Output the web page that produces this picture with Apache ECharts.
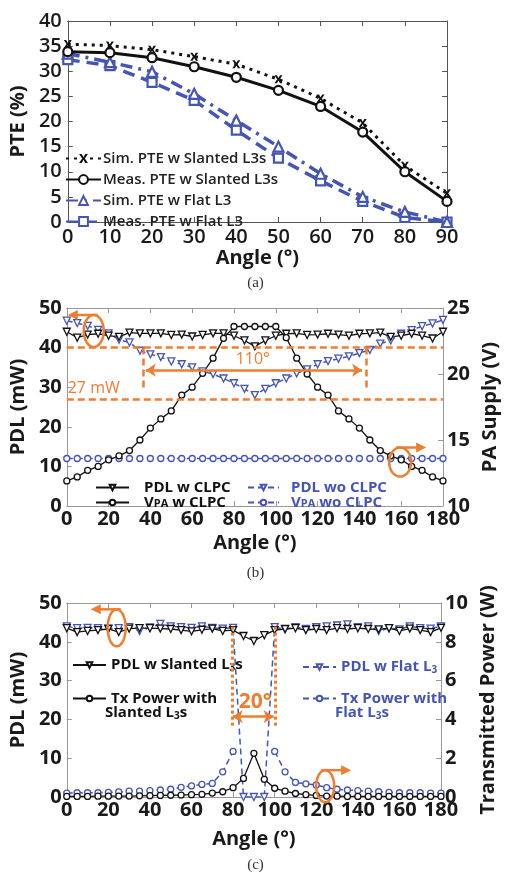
<!DOCTYPE html>
<html><head><meta charset="utf-8">
<script src="https://cdn.jsdelivr.net/npm/echarts@6/dist/echarts.min.js"></script>
<style>html,body{margin:0;padding:0;background:#fff}#chart{width:511px;height:881px}</style>
</head><body><div id="chart"></div>
<script>
// ---------- Panel (a) data ----------
const anglesA = [0, 10, 20, 30, 40, 50, 60, 70, 80, 90];
const pteSimSlanted  = [35.4, 35.1, 34.3, 32.9, 31.4, 28.4, 24.6, 19.7, 11.2, 5.7];
const pteMeasSlanted = [33.9, 33.7, 32.7, 30.9, 28.8, 26.2, 23.0, 17.9, 10.0, 4.1];
const pteSimFlat     = [33.5, 31.8, 29.9, 25.5, 20.2, 15.0, 9.6, 5.0, 2.0, 0.0];
const pteMeasFlat    = [32.3, 31.1, 27.8, 24.2, 18.3, 12.7, 8.2, 4.1, 0.9, 0.0];

// ---------- Panel (b) data ----------
const anglesB = [0,5,10,15,20,25,30,35,40,45,50,55,60,65,70,75,80,85,90,95,100,105,110,115,120,125,130,135,140,145,150,155,160,165,170,175,180];
const pdlWithClpc = [44,42.5,43.3,43.5,43,42.7,43.8,43.6,43.6,43.6,43.2,43.3,42.8,43.2,43.6,43.6,43,41.8,40.3,41.8,43,43.5,43.6,43.2,43.3,43.5,43.3,43,43.5,43.6,43.8,42.7,43,43.5,43,42.3,44];
const vpaWithClpc = [11.9,12.2,12.7,13.0,13.5,13.8,14.2,15.0,15.9,16.6,17.2,18.4,19.0,20.05,21.2,22.7,23.6,23.6,23.6,23.6,23.6,22.75,21.2,20.0,19.0,18.4,17.2,16.6,15.9,15.0,14.2,13.8,13.5,13.0,12.7,12.2,11.9];
const pdlWoClpc = [46.8,46.2,45.5,44.5,43.6,42,41.3,39.2,38.3,37.6,36.5,35.8,35,34,33.3,32.2,31,29.6,28,29.6,31,32.2,33.5,34.5,35.8,36.6,37.2,37.8,38.6,39.4,41,41.8,43.5,44.4,45.4,46.1,47];
const vpaWoClpc = [13.6,13.6,13.6,13.6,13.6,13.6,13.6,13.6,13.6,13.6,13.6,13.6,13.6,13.6,13.6,13.6,13.6,13.6,13.6,13.6,13.6,13.6,13.6,13.6,13.6,13.6,13.6,13.6,13.6,13.6,13.6,13.6,13.6,13.6,13.6,13.6,13.6];

// ---------- Panel (c) data ----------
const anglesC = [0,5,10,15,20,25,30,35,40,45,50,55,60,65,70,75,80,85,90,95,100,105,110,115,120,125,130,135,140,145,150,155,160,165,170,175,180];
const pdlSlanted = [43.5,42.5,42.8,43,43.3,42.5,43.4,43.5,43.5,43.4,43.3,43,42.7,43.1,43.4,42.8,43,41.5,40.2,41.7,43,43.3,43.5,43,43.3,43,43.5,43.3,43.5,43.3,43.2,43.5,42.8,43.4,43,42.5,43.6];
const pdlFlat = [44,43.5,43.6,43.5,43.4,43.5,43.8,42.8,43.7,44.6,44,43.8,43.6,44,43.6,43.4,43.6,0,0,0,43.8,43.2,43.8,43.3,43.8,44,44.2,44.5,43.8,44,42.8,43.5,43.2,44,43.5,43.4,44];
const txSlanted = [0.03,0.03,0.03,0.04,0.04,0.05,0.05,0.06,0.07,0.08,0.09,0.1,0.12,0.14,0.2,0.27,0.48,0.96,2.25,0.91,0.45,0.3,0.18,0.12,0.08,0.05,0.04,0.03,0.03,0.03,0.03,0.03,0.03,0.03,0.03,0.03,0.03];
const txFlat = [0.2,0.22,0.22,0.22,0.24,0.26,0.3,0.3,0.33,0.36,0.4,0.5,0.57,0.65,0.7,1.3,2.35,null,null,null,2.35,1.3,0.75,0.68,0.62,0.48,0.4,0.36,0.33,0.3,0.27,0.24,0.22,0.22,0.22,0.2,0.2];

const FONT = "'Open Sans','Liberation Sans',sans-serif";
const BLUE = '#4455B6', BLACK = '#111111', ORANGE = '#EE7D2F', TXT = '#1a1a1a';
const pairs = (xs, ys) => xs.map((x, i) => [x, ys[i]]);

function ax(base, frameColor) {
  return Object.assign({
    type: 'value',
    axisLine: { show: true, onZero: false, lineStyle: { color: frameColor, width: 1 } },
    axisTick: { show: true, inside: true, length: 5, lineStyle: { color: frameColor } },
    splitLine: { show: false },
    axisLabel: { show: false },
    nameTextStyle: { color: TXT, fontSize: 20, fontWeight: 'bold', fontFamily: FONT }
  }, base);
}
const labelStyle = (w, m) => ({ show: true, color: TXT, fontSize: 20, fontWeight: w, fontFamily: FONT, margin: m, showMinLabel: true, showMaxLabel: true });

function ellipseArrow(params, api) {
  const c = api.coord([api.value(0), api.value(1)]);
  const rx = api.value(2), ry = api.value(3), dir = api.value(4);
  const pts = [];
  for (let k = 0; k <= 60; k++) { const t = k / 60 * Math.PI * 2; pts.push([c[0] + rx * Math.cos(t), c[1] + ry * Math.sin(t)]); }
  const y = c[1] - ry;
  const x0 = c[0] - dir * 4, x1 = c[0] + dir * 26;
  return { type: 'group', children: [
    { type: 'polyline', shape: { points: pts }, style: { stroke: ORANGE, lineWidth: 2.5, fill: null } },
    { type: 'line', shape: { x1: x0, y1: y, x2: x1 - dir * 7, y2: y }, style: { stroke: ORANGE, lineWidth: 2.5 } },
    { type: 'polygon', shape: { points: [[x1, y], [x1 - dir * 10, y - 5], [x1 - dir * 10, y + 5]] }, style: { fill: ORANGE } }
  ]};
}
function textSeries(list, xi, yi) {
  return {
    type: 'custom', xAxisIndex: xi, yAxisIndex: yi, silent: true, z: 20,
    data: list.map(d => [d.x, d.y]),
    renderItem: function (params, api) {
      const d = list[params.dataIndex];
      const c = api.coord([d.x, d.y]);
      return { type: 'text', x: c[0], y: c[1], style: { text: d.t, fill: ORANGE, fontSize: d.size, fontWeight: d.weight, fontFamily: FONT, align: 'center', verticalAlign: 'middle' } };
    }
  };
}

const dashOrange = { color: ORANGE, width: 2.5, type: [7, 4] };
const dotOrange = { color: ORANGE, width: 3, type: [3, 3] };
const arrowOrange = { color: ORANGE, width: 2.5, type: 'solid' };

const richSub = (color) => ({ s: { fontSize: 10, fontWeight: 'bold', fontFamily: FONT, color: color, padding: [7, 0, 0, 0] }, p: { fontSize: 11, fontWeight: 'bold', fontFamily: FONT, color: color, padding: [3, 0, 0, 0] } });

const option = {
  animation: false,
  backgroundColor: '#fff',
  grid: [
    { left: 62, right: 64, top: 21, height: 201 },
    { left: 65, right: 68, top: 308, height: 198 },
    { left: 65, right: 70, top: 603, height: 194 }
  ],
  xAxis: [
    ax({ gridIndex: 0, min: 0, max: 90, interval: 10, position: 'bottom', axisLabel: labelStyle('600', 5), name: 'Angle (°)', nameLocation: 'middle', nameGap: 25 }, '#555'),
    ax({ gridIndex: 0, min: 0, max: 90, interval: 10, position: 'top' }, '#555'),
    ax({ gridIndex: 1, min: 0, max: 180, interval: 20, position: 'bottom', axisLabel: labelStyle('bold', 3), name: 'Angle (°)', nameLocation: 'middle', nameGap: 27 }, '#999'),
    ax({ gridIndex: 1, min: 0, max: 180, interval: 20, position: 'top' }, '#999'),
    ax({ gridIndex: 2, min: 0, max: 180, interval: 20, position: 'bottom', axisLabel: labelStyle('bold', 3), name: 'Angle (°)', nameLocation: 'middle', nameGap: 32 }, '#999'),
    ax({ gridIndex: 2, min: 0, max: 180, interval: 20, position: 'top' }, '#999')
  ],
  yAxis: [
    ax({ gridIndex: 0, min: 0, max: 40, interval: 5, position: 'left', axisLabel: labelStyle('600', 6), name: 'PTE (%)', nameLocation: 'middle', nameGap: 26, nameRotate: 90 }, '#555'),
    ax({ gridIndex: 0, min: 0, max: 40, interval: 5, position: 'right' }, '#555'),
    ax({ gridIndex: 1, min: 0, max: 50, interval: 10, position: 'left', axisLabel: labelStyle('bold', 5), name: 'PDL (mW)', nameLocation: 'middle', nameGap: 27, nameRotate: 90 }, '#999'),
    ax({ gridIndex: 1, min: 10, max: 25, interval: 5, position: 'right', axisLabel: labelStyle('bold', 4), name: 'PA Supply (V)', nameLocation: 'middle', nameGap: 29, nameRotate: 90 }, '#999'),
    ax({ gridIndex: 2, min: 0, max: 50, interval: 10, position: 'left', axisLabel: labelStyle('bold', 5), name: 'PDL (mW)', nameLocation: 'middle', nameGap: 32, nameRotate: 90 }, '#999'),
    ax({ gridIndex: 2, min: 0, max: 10, interval: 2, position: 'right', axisLabel: labelStyle('bold', 4), name: 'Transmitted Power (W)', nameLocation: 'middle', nameGap: 35, nameRotate: 90 }, '#999')
  ],
  legend: [
    { orient: 'vertical', left: 60, top: 143, itemWidth: 35, itemHeight: 11, itemGap: 0,
      data: ['Sim. PTE w Slanted L3s', 'Meas. PTE w Slanted L3s', 'Sim. PTE w Flat L3', 'Meas. PTE w Flat L3'],
      textStyle: { color: '#222', fontSize: 15, fontWeight: '600', fontFamily: FONT, lineHeight: 21, padding: [0, 0, 0, -3] } },
    { orient: 'vertical', left: 90, top: 475, itemWidth: 33, itemHeight: 7, itemGap: 0,
      data: ['PDL w CLPC', 'VPA w CLPC'],
      formatter: n => n.replace('VPA', 'V{p|PA}'),
      textStyle: { color: BLACK, fontSize: 15, fontWeight: 'bold', fontFamily: FONT, lineHeight: 15, padding: [0, 0, 0, 10], rich: richSub(BLACK) } },
    { orient: 'vertical', left: 242, top: 475, itemWidth: 31, itemHeight: 7, itemGap: 0,
      data: ['PDL wo CLPC', 'VPA wo CLPC'],
      formatter: n => n.replace('VPA', 'V{p|PA}'),
      textStyle: { color: BLUE, fontSize: 15, fontWeight: 'bold', fontFamily: FONT, lineHeight: 15, padding: [0, 0, 0, 7], rich: richSub(BLUE) } },
    { orient: 'vertical', left: 67, top: 652, itemWidth: 33, itemHeight: 7, itemGap: 17,
      data: ['PDL w Slanted L3s', 'Tx Power with Slanted L3s'],
      formatter: n => n === 'PDL w Slanted L3s' ? 'PDL w Slanted L{s|3}s' : 'Tx Power with',
      textStyle: { color: BLACK, fontSize: 15, fontWeight: 'bold', fontFamily: FONT, lineHeight: 16, rich: richSub(BLACK) } },
    { orient: 'vertical', left: 297, top: 654, itemWidth: 33, itemHeight: 7, itemGap: 15,
      data: ['PDL w Flat L3', 'Tx Power with Flat L3s'],
      formatter: n => n === 'PDL w Flat L3' ? 'PDL w Flat L{s|3}' : 'Tx Power with',
      textStyle: { color: BLUE, fontSize: 15, fontWeight: 'bold', fontFamily: FONT, lineHeight: 16, rich: richSub(BLUE) } }
  ],
  graphic: [
    { type: 'text', left: 'center', top: 276, style: { text: '(a)', fontFamily: "'Liberation Serif',serif", fontSize: 15, fill: '#333' } },
    { type: 'text', left: 'center', top: 566, style: { text: '(b)', fontFamily: "'Liberation Serif',serif", fontSize: 15, fill: '#333' } },
    { type: 'text', left: 'center', top: 858, style: { text: '(c)', fontFamily: "'Liberation Serif',serif", fontSize: 15, fill: '#333' } },
    { type: 'text', x: 105, y: 713, style: { text: 'Slanted L{s|3}s', fontFamily: FONT, fontSize: 15, fontWeight: 'bold', fill: BLACK, verticalAlign: 'middle', rich: richSub(BLACK) } },
    { type: 'text', x: 335, y: 713, style: { text: 'Flat L{s|3}s', fontFamily: FONT, fontSize: 15, fontWeight: 'bold', fill: BLUE, verticalAlign: 'middle', rich: richSub(BLUE) } }
  ],
  series: [
    // ---- Panel (a)
    { name: 'Meas. PTE w Flat L3', type: 'line', xAxisIndex: 0, yAxisIndex: 0, data: pairs(anglesA, pteMeasFlat),
      symbol: 'rect', symbolSize: 9, itemStyle: { color: '#fff', borderColor: BLUE, borderWidth: 2.2 },
      lineStyle: { color: BLUE, width: 3.5, type: [12, 7] }, color: BLUE },
    { name: 'Sim. PTE w Flat L3', type: 'line', xAxisIndex: 0, yAxisIndex: 0, data: pairs(anglesA, pteSimFlat),
      symbol: 'triangle', symbolSize: 10, itemStyle: { color: '#fff', borderColor: BLUE, borderWidth: 2.2 },
      lineStyle: { color: BLUE, width: 3.5, type: [12, 6, 3, 6] }, color: BLUE },
    { name: 'Sim. PTE w Slanted L3s', type: 'line', xAxisIndex: 0, yAxisIndex: 0, data: pairs(anglesA, pteSimSlanted),
      symbol: 'path://M0,0L3,0L5,3.5L7,0L10,0L6.6,5L10,10L7,10L5,6.5L3,10L0,10L3.4,5Z', symbolSize: 8,
      itemStyle: { color: BLACK }, lineStyle: { color: BLACK, width: 3, type: [3, 5] }, color: BLACK },
    { name: 'Meas. PTE w Slanted L3s', type: 'line', xAxisIndex: 0, yAxisIndex: 0, data: pairs(anglesA, pteMeasSlanted),
      symbol: 'circle', symbolSize: 9, itemStyle: { color: '#fff', borderColor: BLACK, borderWidth: 2.2 },
      lineStyle: { color: BLACK, width: 3 }, color: BLACK, z: 3 },

    // ---- Panel (b)
    { name: 'VPA wo CLPC', type: 'line', xAxisIndex: 2, yAxisIndex: 3, data: pairs(anglesB, vpaWoClpc),
      symbol: 'circle', symbolSize: 6, itemStyle: { color: '#fff', borderColor: BLUE, borderWidth: 1.3 },
      lineStyle: { color: BLUE, width: 1.5, type: [6, 4] }, color: BLUE },
    { name: 'PDL wo CLPC', type: 'line', xAxisIndex: 2, yAxisIndex: 2, data: pairs(anglesB, pdlWoClpc),
      symbol: 'triangle', symbolRotate: 180, symbolSize: 7, itemStyle: { color: '#fff', borderColor: BLUE, borderWidth: 1.3 },
      lineStyle: { color: BLUE, width: 1.5, type: [6, 4] }, color: BLUE,
      markLine: { silent: true, symbol: 'none', label: { show: false }, animation: false,
        data: [
          [{ coord: [0, 40], lineStyle: dashOrange }, { coord: [180, 40] }],
          [{ coord: [0, 27], lineStyle: dashOrange }, { coord: [180, 27] }],
          [{ coord: [36.5, 40], lineStyle: dashOrange }, { coord: [36.5, 29.3] }],
          [{ coord: [143.3, 40], lineStyle: dashOrange }, { coord: [143.3, 29.3] }],
          [{ coord: [37.8, 34.3], symbol: 'arrow', symbolSize: 10, lineStyle: arrowOrange }, { coord: [141.3, 34.3], symbol: 'arrow', symbolSize: 10 }]
        ] } },
    { name: 'PDL w CLPC', type: 'line', xAxisIndex: 2, yAxisIndex: 2, data: pairs(anglesB, pdlWithClpc),
      symbol: 'triangle', symbolRotate: 180, symbolSize: 7, itemStyle: { color: '#fff', borderColor: BLACK, borderWidth: 1.3 },
      lineStyle: { color: BLACK, width: 1.3 }, color: BLACK },
    { name: 'VPA w CLPC', type: 'line', xAxisIndex: 2, yAxisIndex: 3, data: pairs(anglesB, vpaWithClpc),
      symbol: 'circle', symbolSize: 6, itemStyle: { color: '#fff', borderColor: BLACK, borderWidth: 1.3 },
      lineStyle: { color: BLACK, width: 1.3 }, color: BLACK },
    { type: 'custom', xAxisIndex: 2, yAxisIndex: 2, silent: true, z: 20, renderItem: ellipseArrow,
      data: [[12.9, 44.2, 10, 16, -1], [159.5, 11.1, 11, 14.5, 1]] },
    textSeries([{ x: 89, y: 36.9, t: '110°', size: 16, weight: 'normal' }, { x: 12.9, y: 29.8, t: '27 mW', size: 16, weight: 'normal' }], 2, 2),

    // ---- Panel (c)
    { name: 'Tx Power with Flat L3s', type: 'line', xAxisIndex: 4, yAxisIndex: 5, data: pairs(anglesC, txFlat),
      symbol: 'circle', symbolSize: 6, itemStyle: { color: '#fff', borderColor: BLUE, borderWidth: 1.3 },
      lineStyle: { color: BLUE, width: 1.5, type: [6, 4] }, color: BLUE },
    { name: 'PDL w Flat L3', type: 'line', xAxisIndex: 4, yAxisIndex: 4, data: pairs(anglesC, pdlFlat),
      symbol: 'triangle', symbolRotate: 180, symbolSize: 7, itemStyle: { color: '#fff', borderColor: BLUE, borderWidth: 1.3 },
      lineStyle: { color: BLUE, width: 1.5, type: [6, 4] }, color: BLUE,
      markLine: { silent: true, symbol: 'none', label: { show: false }, animation: false,
        data: [
          [{ coord: [79.5, 43.9], lineStyle: dotOrange }, { coord: [79.5, 17.8] }],
          [{ coord: [100.5, 43.9], lineStyle: dotOrange }, { coord: [100.5, 17.8] }],
          [{ coord: [79.8, 20.7], symbol: 'arrow', symbolSize: 10, lineStyle: arrowOrange }, { coord: [99.5, 20.7], symbol: 'arrow', symbolSize: 10 }]
        ] } },
    { name: 'PDL w Slanted L3s', type: 'line', xAxisIndex: 4, yAxisIndex: 4, data: pairs(anglesC, pdlSlanted),
      symbol: 'triangle', symbolRotate: 180, symbolSize: 7, itemStyle: { color: '#fff', borderColor: BLACK, borderWidth: 1.3 },
      lineStyle: { color: BLACK, width: 1.3 }, color: BLACK },
    { name: 'Tx Power with Slanted L3s', type: 'line', xAxisIndex: 4, yAxisIndex: 5, data: pairs(anglesC, txSlanted),
      symbol: 'circle', symbolSize: 6, itemStyle: { color: '#fff', borderColor: BLACK, borderWidth: 1.3 },
      lineStyle: { color: BLACK, width: 1.3 }, color: BLACK },
    { type: 'custom', xAxisIndex: 4, yAxisIndex: 4, silent: true, z: 20, renderItem: ellipseArrow,
      data: [[24, 43.6, 9, 18.5, -1], [124.3, 2.8, 9, 16, 1]] },
    textSeries([{ x: 90.7, y: 24.5, t: '20°', size: 21, weight: 'bold' }], 4, 4)
  ]
};
const chart = echarts.init(document.getElementById('chart'), null, { renderer: 'canvas' });
chart.setOption(option);
</script></body></html>
